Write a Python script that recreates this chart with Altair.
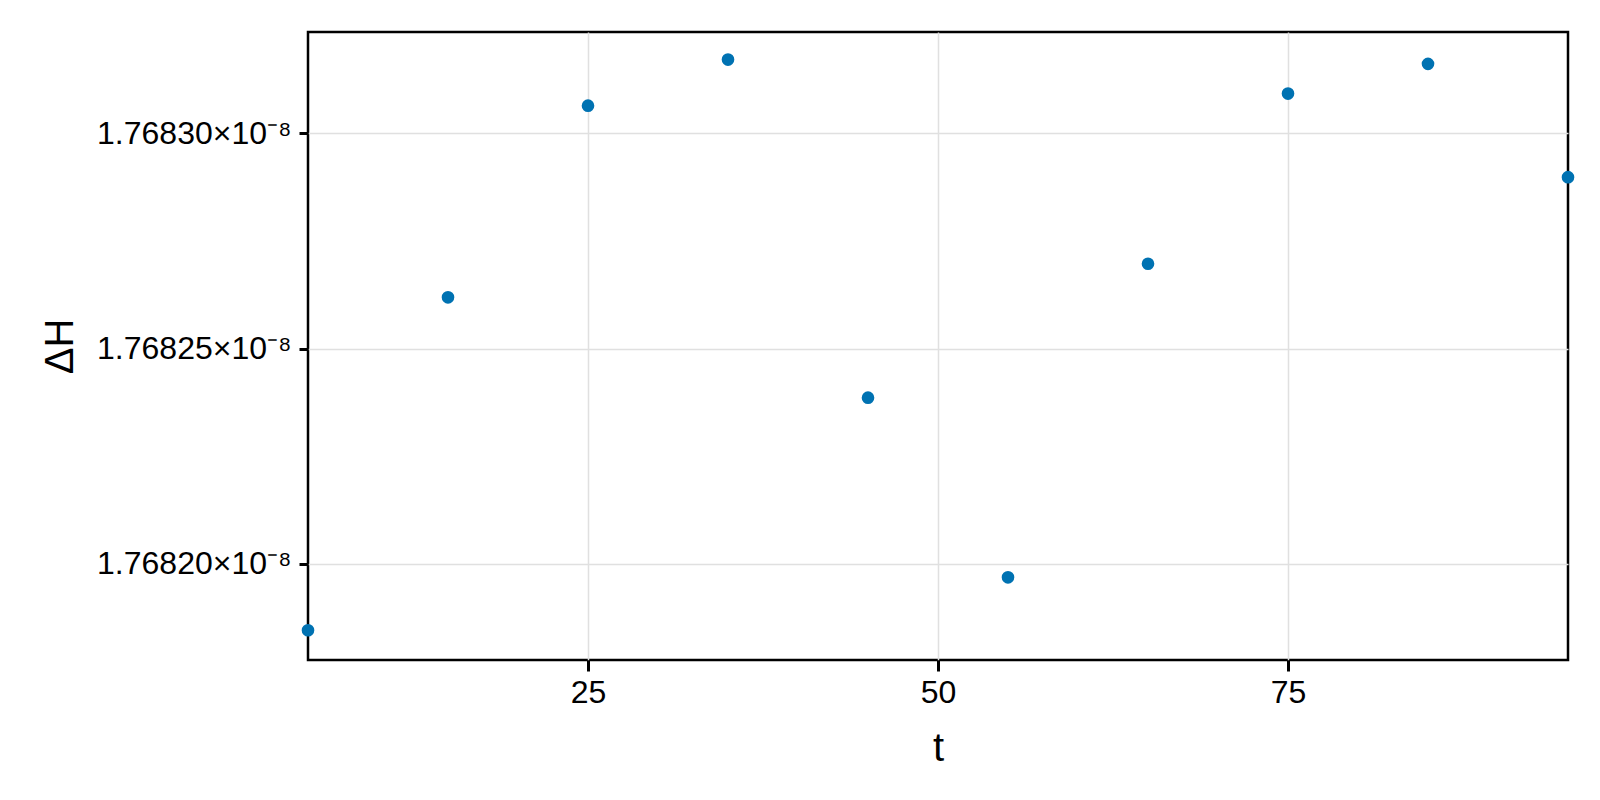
import altair as alt
import pandas as pd

t_vals = [5, 15, 25, 35, 45, 55, 65, 75, 85, 95]
dH_vals = [1.7681846e-8, 1.7682619e-8, 1.7683064e-8, 1.7683171e-8, 1.7682386e-8,
           1.7681969e-8, 1.7682697e-8, 1.7683092e-8, 1.7683161e-8, 1.7682898e-8]
x_ticks = [25, 50, 75]
y_ticks = [1.76820e-8, 1.76825e-8, 1.76830e-8]
x_domain = [5, 95]
y_domain = [1.7681777e-8, 1.7683235e-8]

df = pd.DataFrame({"t": t_vals, "dH": dH_vals})

font = "Liberation Sans"
W, H = 1260, 628

xscale = alt.Scale(domain=x_domain, nice=False, zero=False)
yscale = alt.Scale(domain=y_domain, nice=False, zero=False)

chart = alt.Chart(df).mark_circle(size=160, opacity=1, color="#0072b2").encode(
    x=alt.X("t:Q", scale=xscale,
            axis=alt.Axis(values=x_ticks, title="t", grid=True, gridColor="#e0e0e0", gridWidth=1.5,
                          domain=False, ticks=True, tickColor="black", tickSize=11, tickWidth=3,
                          labelFont=font, labelFontSize=32, labelColor="black", labelPadding=6,
                          titleFont=font, titleFontSize=40, titleFontWeight="normal",
                          titleColor="black", titleBaseline="alphabetic", titleY=100)),
    y=alt.Y("dH:Q", scale=yscale,
            axis=alt.Axis(values=y_ticks, title="ΔH", grid=True, gridColor="#e0e0e0", gridWidth=1.5,
                          domain=False, ticks=True, tickColor="black", tickSize=9, tickWidth=3,
                          labelExpr="format(datum.value * 1e8, '.5f') + '×10⁻⁸'",
                          labelFont=font, labelFontSize=32, labelColor="black", labelPadding=8,
                          labelLimit=0,
                          titleFont=font, titleFontSize=40, titleFontWeight="normal",
                          titleColor="black", titleBaseline="alphabetic", titleAngle=-90,
                          titleAlign="center", titleX=-236, titleY=314)),
).properties(
    width=W, height=H,
    autosize=alt.AutoSizeParams(type="none"),
    padding={"left": 300, "top": 24, "right": 24, "bottom": 130},
).configure(background="white").configure_view(stroke="black", strokeWidth=2.5)

chart.save("out.html", embed_options={"renderer": "svg", "actions": False})
